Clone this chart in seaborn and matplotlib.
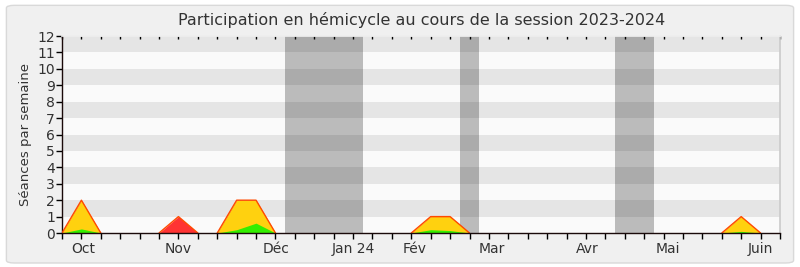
import numpy as np
import pandas as pd
import matplotlib
matplotlib.use("Agg")
import matplotlib.pyplot as plt
from matplotlib.patches import FancyBboxPatch
import matplotlib.transforms as mtransforms
import seaborn as sns

# ---- data (weekly, week 0 = late September 2023) ----
weeks = list(range(38))
red_vals = [0, 2, 0, 0, 0, 0, 1, 0, 0, 2, 2, 0, 0, 0, 0, 0, 0, 0, 0, 1,
            1, 0, 0, 0, 0, 0, 0, 0, 0, 0, 0, 0, 0, 0, 0, 1, 0, 0]
yellow_vals = [0, 2, 0, 0, 0, 0, 0, 0, 0, 2, 2, 0, 0, 0, 0, 0, 0, 0, 0, 1,
               1, 0, 0, 0, 0, 0, 0, 0, 0, 0, 0, 0, 0, 0, 0, 1, 0, 0]
green_vals = [0, 0.25, 0, 0, 0, 0, 0, 0, 0, 0.2, 0.6, 0, 0, 0, 0, 0, 0, 0, 0, 0.2,
              0.15, 0, 0, 0, 0, 0, 0, 0, 0, 0, 0, 0, 0, 0, 0, 0.1, 0, 0]
vacation_starts = [11.5, 20.5, 28.5]
vacation_ends = [15.5, 21.5, 30.5]
month_labels = ["Oct", "Nov", "Déc", "Jan 24", "Fév", "Mar", "Avr", "Mai", "Juin"]
month_pos = [1.08, 6.0, 11.05, 15.0, 18.17, 22.16, 27.07, 31.2, 36.0]

df = pd.DataFrame({"semaine": weeks, "rouge": red_vals,
                   "jaune": yellow_vals, "vert": green_vals})

# red outline: one segment per run of non-zero weeks (with the zero neighbours)
rows = []
sid = 0
i = 0
n = len(red_vals)
while i < n:
    if red_vals[i] != 0:
        s = i
        while i < n and red_vals[i] != 0:
            i += 1
        e = i - 1
        sid += 1
        for j in range(max(s - 1, 0), min(e + 1, n - 1) + 1):
            rows.append({"semaine": weeks[j], "rouge": red_vals[j], "seg": sid})
    else:
        i += 1
outline = pd.DataFrame(rows)

sns.set_theme(style="white")
plt.rcParams["font.family"] = ["DejaVu Sans"]

fig = plt.figure(figsize=(8, 2.67), dpi=100, facecolor="white")
bg = FancyBboxPatch((0.008, 0.015), 0.984, 0.965, boxstyle="round,pad=0,rounding_size=0.01",
                    transform=fig.transFigure, facecolor="#f0f0f0", edgecolor="#d9d9d9",
                    lw=1, zorder=-10)
fig.patches.append(bg)

ax = fig.add_axes([0.0775, 0.1273, 0.8975, 0.7377])
ax.set_facecolor("#fafafa")
for k in range(1, 12, 2):
    ax.axhspan(k, k + 1, color="#e5e5e5", lw=0, zorder=0)
for a, b in zip(vacation_starts, vacation_ends):
    ax.axvspan(a, b, color="black", alpha=0.25, lw=0, zorder=1)

ax.fill_between(df["semaine"], df["rouge"], color="#ff3333", lw=0, zorder=2)
ax.fill_between(df["semaine"], df["jaune"], color="#ffd10f", lw=0, zorder=3)
ax.fill_between(df["semaine"], df["vert"], color="#33ee00", lw=0, zorder=4)
sns.lineplot(data=outline, x="semaine", y="rouge", units="seg", estimator=None,
             color="#ff4a00", lw=1.0, ax=ax, zorder=5)

ax.set_xlim(0, 37)
ax.set_ylim(0, 12)
ax.set_yticks(range(13))
ax.set_xticks(weeks)
ax.set_xticklabels([])
ax.tick_params(axis="x", which="major", bottom=True, direction="out", length=4,
               width=1, color="black")
ax.tick_params(axis="y", left=True, direction="out", length=4, width=1,
               color="black", labelsize=10, labelcolor="#333333", pad=1)
ax.set_xlabel("")
ax.set_ylabel("Séances par semaine", fontsize=9.5, color="#333333", labelpad=4)

trans = mtransforms.blended_transform_factory(ax.transData, ax.transAxes)
for p, lab in zip(month_pos, month_labels):
    ax.text(p, -0.045, lab, transform=trans, ha="center", va="top",
            fontsize=10, color="#333333")

for s in ["left", "bottom"]:
    ax.spines[s].set_color("#1a0a0a")
    ax.spines[s].set_linewidth(1)
ax.spines["bottom"].set_zorder(6)
ax.spines["right"].set_color("#cccccc")
ax.spines["top"].set_color("#eeeeee")

sec = ax.secondary_xaxis("top")
sec.set_xticks(weeks)
sec.set_xticklabels([])
sec.tick_params(direction="in", length=2, width=1, color="black")
sec.spines["top"].set_visible(False)

fig.text(0.527, 0.925, "Participation en hémicycle au cours de la session 2023-2024",
         ha="center", va="center", fontsize=11.5, color="#333333")

fig.savefig("out.png", dpi=100, facecolor=fig.get_facecolor())
